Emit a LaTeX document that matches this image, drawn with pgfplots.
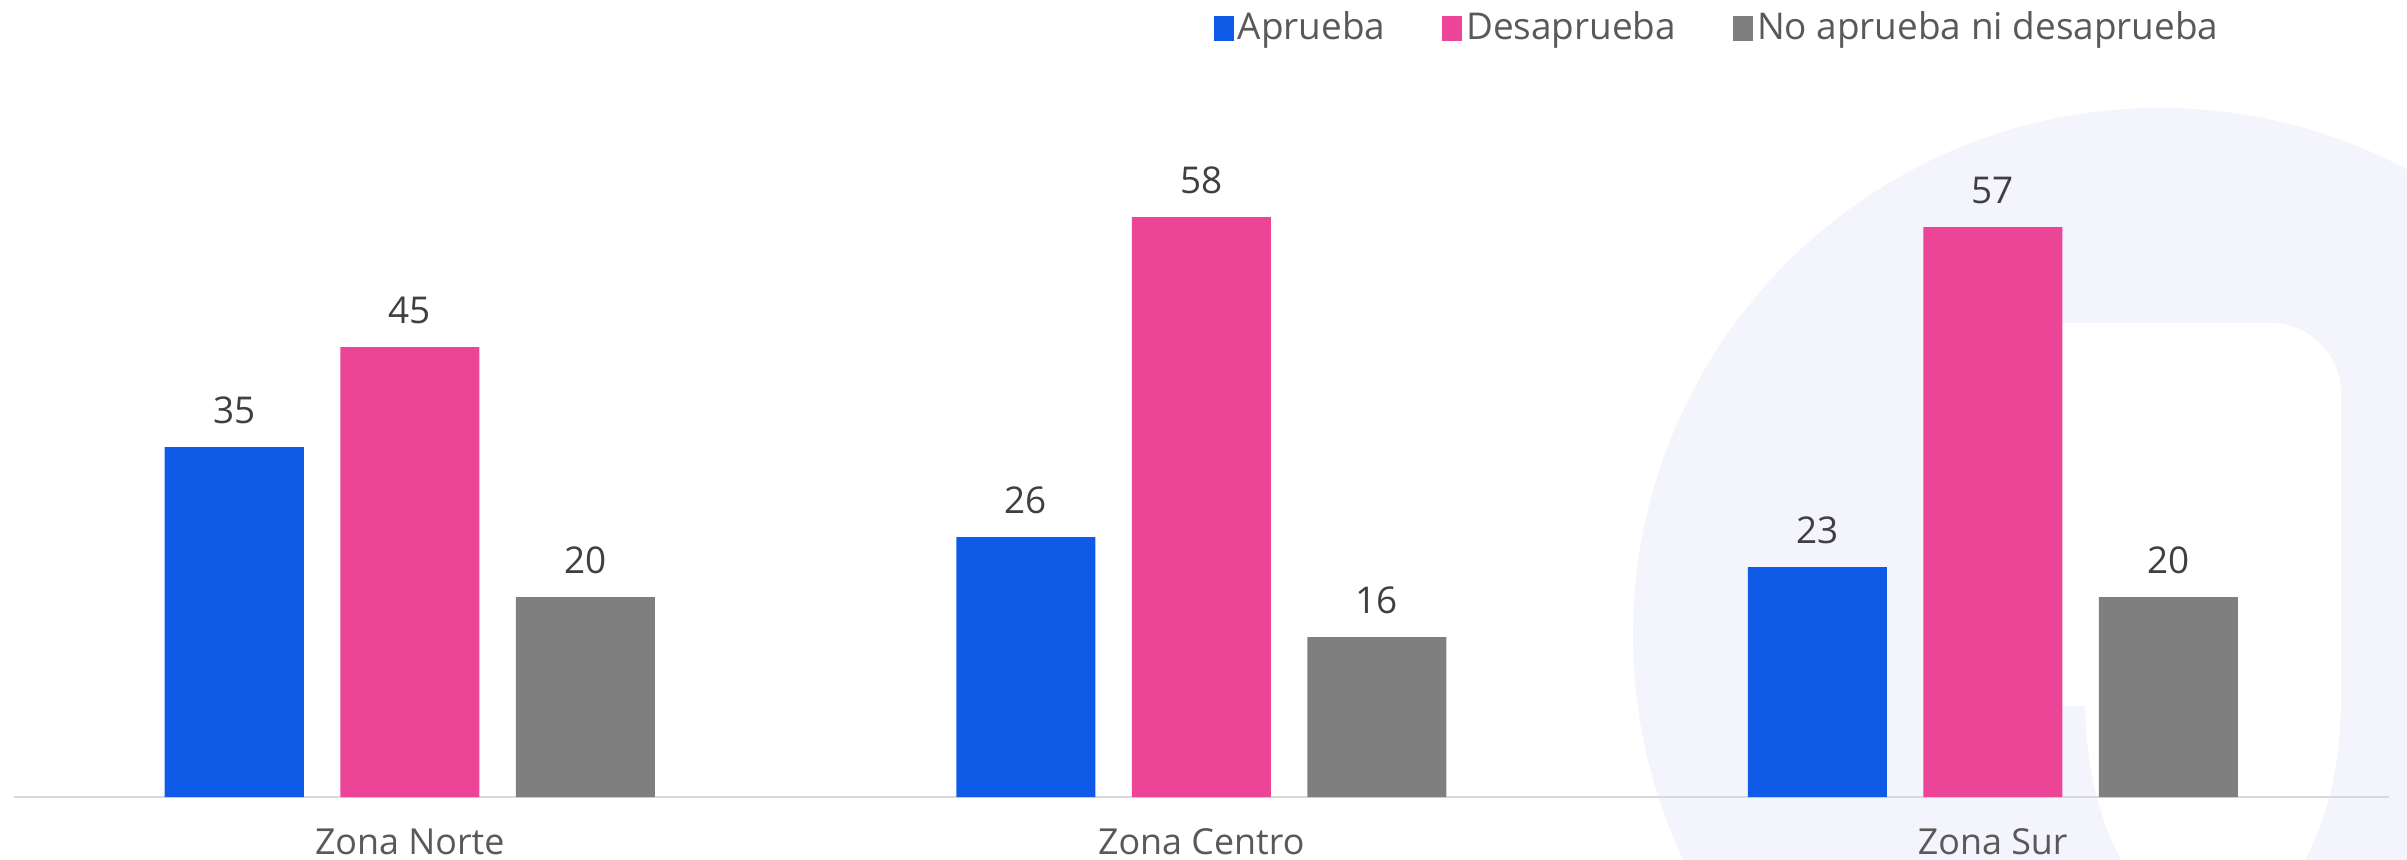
\documentclass[border=0pt]{standalone}
\usepackage{fontspec}
\setmainfont{Open Sans}
\usepackage{pgfplots}
\pgfplotsset{compat=1.18}

\definecolor{cBlue}{HTML}{0F5AE6}
\definecolor{cPink}{HTML}{EC4497}
\definecolor{cGray}{HTML}{7F7F7F}
\definecolor{cLav}{HTML}{F3F4FC}
\definecolor{txtDark}{HTML}{404040}
\definecolor{txtMid}{HTML}{595959}
\definecolor{axisGray}{HTML}{D9D9D9}

\begin{document}
\begin{tikzpicture}
\useasboundingbox (0,0) rectangle (240.7mm,85.9mm);
% watermark behind the plot
\begin{scope}
  \clip (0,0) rectangle (240.7mm,85.9mm);
  \fill[cLav] (216.0mm,22.4mm) circle (52.7mm);
  \fill[white, rounded corners=7mm] (200mm,15.3mm) rectangle (234.1mm,53.6mm);
  \fill[white] (215mm,15.3mm) rectangle (234.1mm,40mm);
  \fill[white] (221.3mm,15.9mm) ellipse (12.8mm and 23mm);
\end{scope}

\begin{axis}[
    scale only axis,
    width=237.45mm, height=75mm,
    at={(1.4mm,6.2mm)}, anchor=south west,
    xmin=-0.5, xmax=2.5,
    ymin=0, ymax=75,
    ybar=3.65mm, bar width=13.9mm,
    axis y line=none,
    axis x line=bottom,
    x axis line style={draw=axisGray, line width=0.25mm, -},
    xtick={0,1,2},
    xticklabels={Zona Norte, Zona Centro, Zona Sur},
    major tick length=0pt,
    xtick style={draw=none},
    xticklabel style={font=\fontsize{10.2}{12}\selectfont, text=txtMid, anchor=base, yshift=-5.7mm},
    /pgf/number format/assume math mode=true,
    nodes near coords,
    every node near coord/.append style={font=\fontsize{10.5}{12}\selectfont, text=txtDark,
        anchor=south, inner sep=0pt, yshift=2.2mm},
    legend columns=3,
    legend style={draw=none, fill=none, at={(0.9303,1.0253)}, anchor=east, inner sep=0pt,
        font=\fontsize{10.5}{12}\selectfont, text=txtMid,
        nodes={inner xsep=0.4mm},
        /tikz/every even column/.append style={column sep=5.3mm}},
    every axis plot post/.append style={
        legend image code/.code={\fill[##1] (0mm,-1.25mm) rectangle (2mm,1.25mm);}},
]
% Aprueba
\addplot[fill=cBlue, draw=none] coordinates {(0,35) (1,26) (2,23)};
% Desaprueba
\addplot[fill=cPink, draw=none] coordinates {(0,45) (1,58) (2,57)};
% No aprueba ni desaprueba
\addplot[fill=cGray, draw=none] coordinates {(0,20) (1,16) (2,20)};
\legend{Aprueba, Desaprueba, No aprueba ni desaprueba}
\end{axis}
\end{tikzpicture}
\end{document}
